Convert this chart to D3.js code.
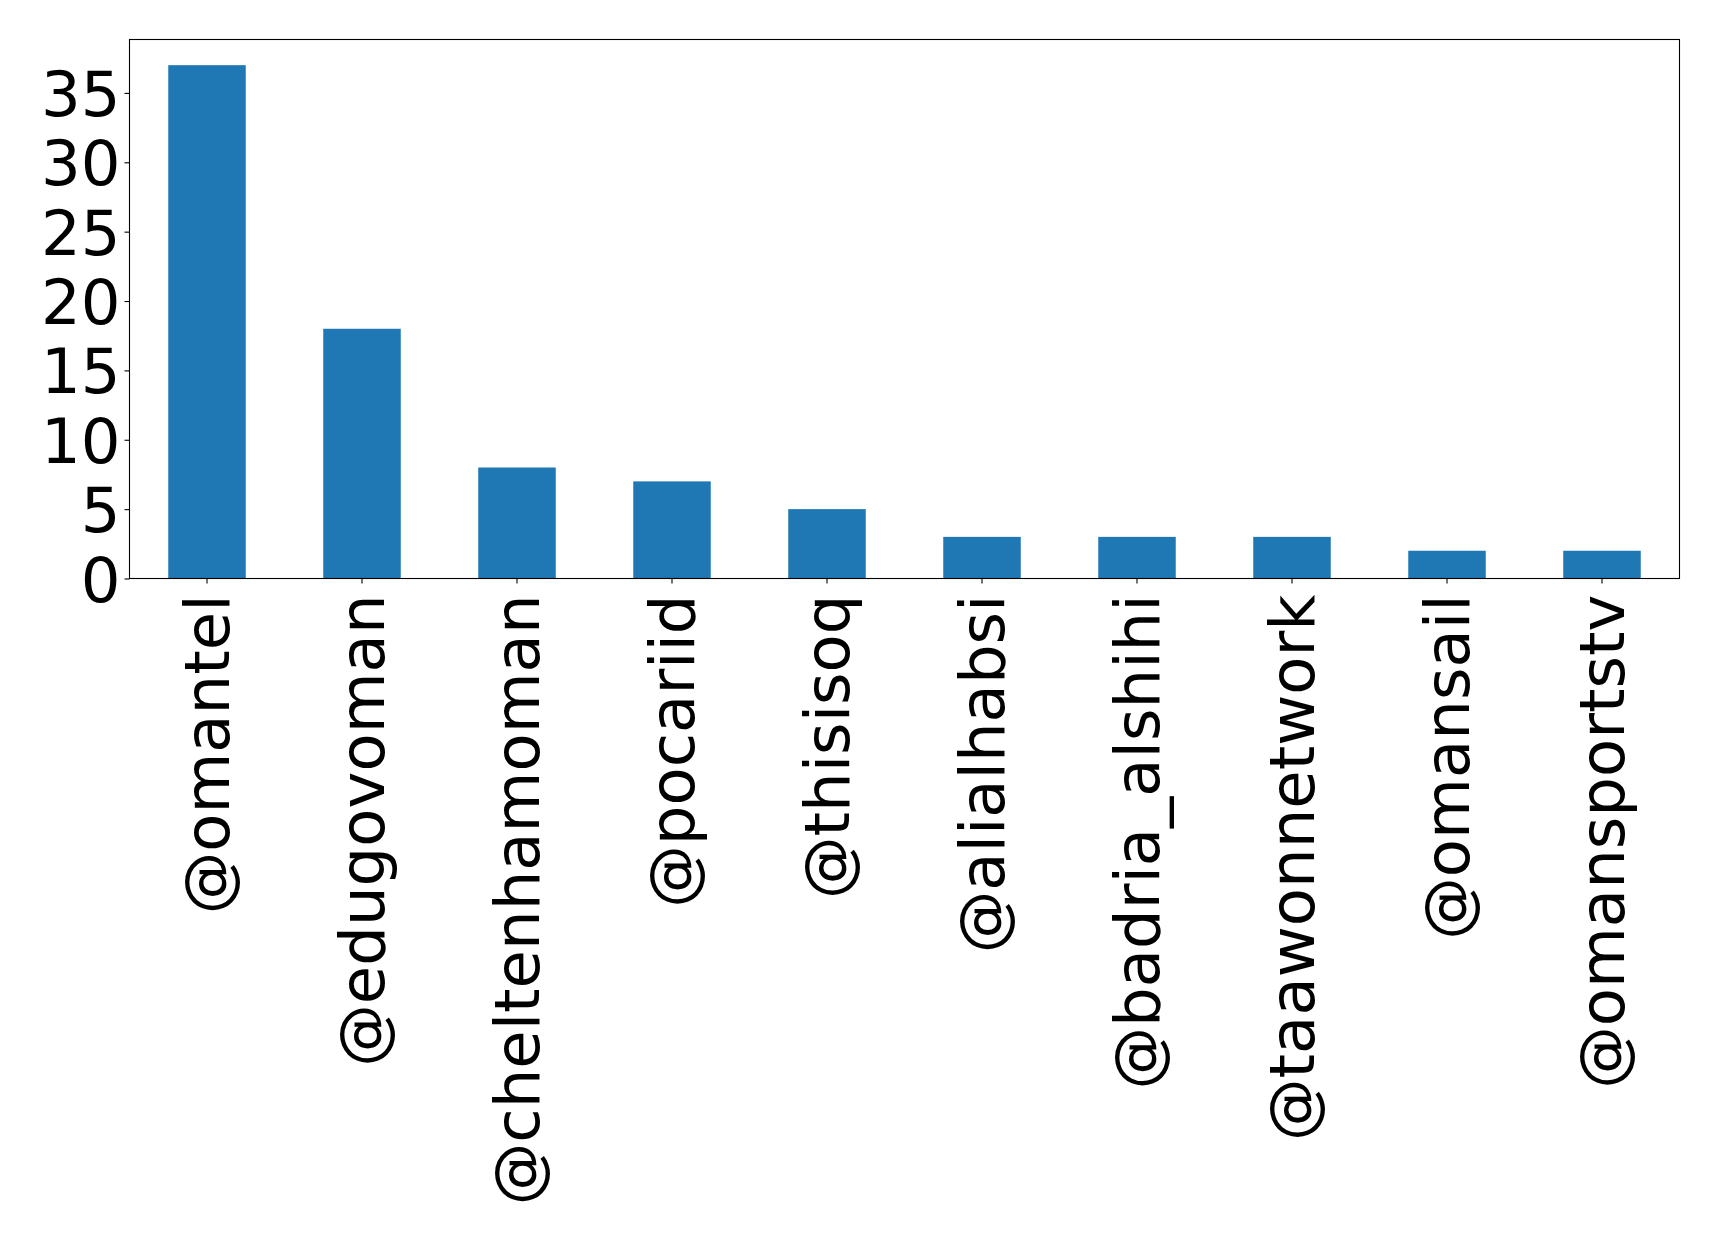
<!DOCTYPE html>
<html>
<head>
<meta charset="utf-8">
<script src="https://d3js.org/d3.v7.min.js"></script>
<style>
  body { margin: 0; background: #fff; }
  svg text { font-family: "DejaVu Sans", sans-serif; }
</style>
</head>
<body>
<svg class="chart" width="1719" height="1238"></svg>
<script>
// data
const accounts = ["@omantel", "@edugovoman", "@cheltenhamoman", "@pocariid", "@thisisoq",
                  "@alialhabsi", "@badria_alshihi", "@taawonnetwork", "@omansail", "@omansportstv"];
const counts = [37, 18, 8, 7, 5, 3, 3, 3, 2, 2];
const yTicks = [0, 5, 10, 15, 20, 25, 30, 35];

const marginLeft = 129.5, marginTop = 39.5;
const width = 1550, height = 539;
const tickLen = 5, fontSize = 62.5;

const svg = d3.select(".chart");
const g = svg.append("g").attr("transform", "translate(" + marginLeft + "," + marginTop + ")");

// band with padding so bar = half of step, like the reference
const xs = d3.scaleBand().domain(accounts).range([0, width]).paddingInner(0.5).paddingOuter(0.25);
const ys = d3.scaleLinear().domain([0, d3.max(counts) * 1.05]).range([height, 0]);

g.selectAll("rect.bar")
  .data(counts)
  .join("rect")
  .attr("class", "bar")
  .attr("x", (d, i) => xs(accounts[i]))
  .attr("y", d => ys(d))
  .attr("width", xs.bandwidth())
  .attr("height", d => height - ys(d))
  .attr("fill", "#1f77b4");

// y axis
const yAxis = d3.axisLeft(ys).tickValues(yTicks).tickSize(tickLen).tickPadding(4).tickFormat(d3.format("d"));
const yg = g.append("g").call(yAxis);
yg.select(".domain").remove();
yg.selectAll(".tick line").attr("stroke", "#000").attr("stroke-width", 1.1);
yg.selectAll(".tick text").attr("fill", "#000").style("font-size", fontSize + "px").attr("dy", "0.36em");

// x axis
const xAxis = d3.axisBottom(xs).tickSize(tickLen).tickPadding(0);
const xg = g.append("g").attr("transform", "translate(0," + height + ")").call(xAxis);
xg.select(".domain").remove();
xg.selectAll(".tick line").attr("stroke", "#000").attr("stroke-width", 1.1);
xg.selectAll(".tick text")
  .attr("fill", "#000")
  .style("font-size", fontSize + "px")
  .attr("text-anchor", "end")
  .attr("y", 0)
  .attr("dy", "0.35em")
  .attr("transform", "translate(0,16) rotate(-90)");

// frame
g.append("rect")
  .attr("x", 0).attr("y", 0)
  .attr("width", width).attr("height", height)
  .attr("fill", "none")
  .attr("stroke", "#000")
  .attr("stroke-width", 1.1);
</script>
</body>
</html>
